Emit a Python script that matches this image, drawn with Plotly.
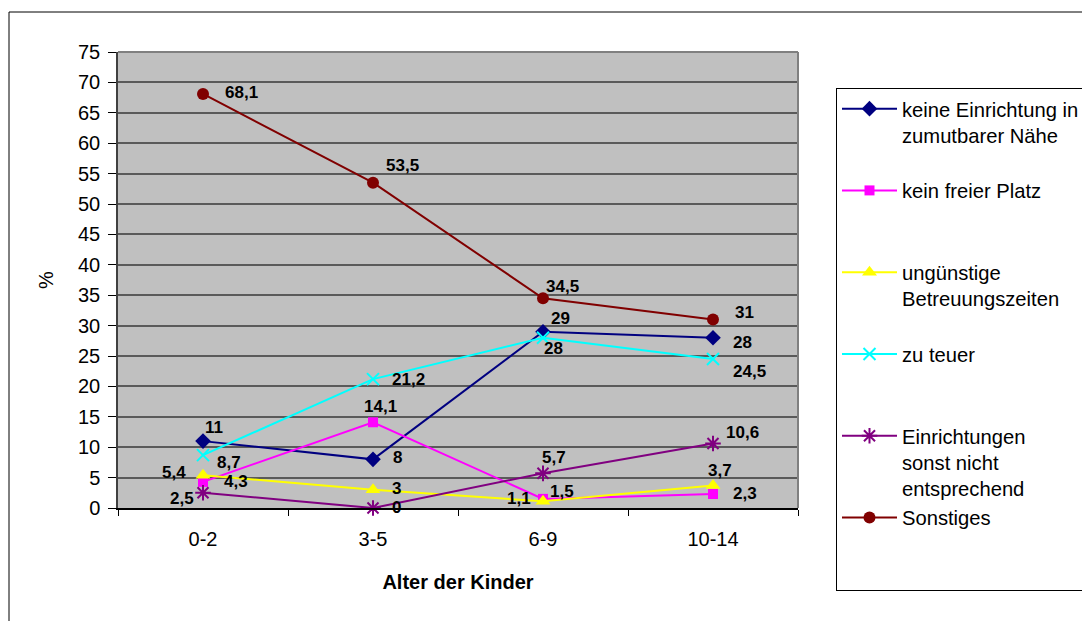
import plotly.graph_objects as go

# ---------------- data ----------------
categories = ["0-2", "3-5", "6-9", "10-14"]

keine_einrichtung = [11, 8, 29, 28]
kein_freier_platz = [4.3, 14.1, 1.5, 2.3]
unguenstige_zeiten = [5.4, 3, 1.1, 3.7]
zu_teuer = [8.7, 21.2, 28, 24.5]
nicht_entsprechend = [2.5, 0, 5.7, 10.6]
sonstiges = [68.1, 53.5, 34.5, 31]

series_names = [
    "keine Einrichtung in<br>zumutbarer Nähe<br>\u00a0",
    "kein freier Platz<br>\u00a0<br>\u00a0",
    "ungünstige<br>Betreuungszeiten<br>\u00a0",
    "zu teuer<br>\u00a0<br>\u00a0",
    "Einrichtungen<br>sonst nicht<br>entsprechend",
    "Sonstiges<br>\u00a0<br>\u00a0",
]
series_values = [keine_einrichtung, kein_freier_platz, unguenstige_zeiten,
                 zu_teuer, nicht_entsprechend, sonstiges]

y_ticks = list(range(0, 80, 5))

# ---------------- styles ----------------
colors = ["#000080", "#FF00FF", "#FFFF00", "#00FFFF", "#800080", "#800000"]
symbols = ["diamond", "square", "triangle-up", "x-thin-open", "asterisk-open", "circle"]
msizes = [12, 10, 13, 12, 13, 12]

# label offsets in pixels (dx, dy; dy positive = up)
label_offsets = [
    [(11, 14), (24, 2), (17, 13), (29, -5)],
    [(33, 0), (7, 16), (19, 7), (32, 1)],
    [(-29, 3), (23, 1), (-24, 3), (7, 15)],
    [(26, -7), (35, 0), (10, -11), (36, -12)],
    [(-21, -6), (23, 1), (11, 16), (29, 11)],
    [(38, 1), (29, 17), (19, 12), (31, 7)],
]

# page offset (browser body margin)
OX, OY = 8, 8
W, H = 1090 - OX, 621 - OY
# plot area in screen pixels
L, R, T, B = 118, 798, 52, 508


def fmt(v):
    if float(v).is_integer():
        return str(int(v))
    return str(v).replace(".", ",")


fig = go.Figure()
for name, vals, col, sym, ms in zip(series_names, series_values, colors, symbols, msizes):
    open_sym = sym.endswith("-open")
    fig.add_trace(go.Scatter(
        x=categories, y=vals, name=name, mode="lines+markers",
        line=dict(color=col, width=2),
        marker=dict(symbol=sym, size=ms, color=col,
                    line=dict(color=col, width=2 if open_sym else 0)),
        cliponaxis=False,
    ))

annotations = []
for vals, offs in zip(series_values, label_offsets):
    for c, v, (dx, dy) in zip(categories, vals, offs):
        annotations.append(dict(
            x=c, y=v, xref="x", yref="y", text=fmt(v), showarrow=False,
            xshift=dx, yshift=dy,
            font=dict(family="Liberation Sans, Arial", size=17, color="black", weight="bold"),
        ))


def px_to_paper_x(px):
    return (px - L) / (R - L)


def px_to_paper_y(py):
    return (B - py) / (B - T)


shapes = [
    # outer chart frame (cut off at right/bottom)
    dict(type="rect", xref="paper", yref="paper",
         x0=px_to_paper_x(9), x1=px_to_paper_x(1110),
         y0=px_to_paper_y(640), y1=px_to_paper_y(12),
         line=dict(color="#000000", width=1), fillcolor="rgba(0,0,0,0)", layer="below"),
    # top and right border of plot area
    dict(type="line", xref="paper", yref="paper", x0=0, x1=1, y0=1, y1=1,
         line=dict(color="#808080", width=2), layer="above"),
    dict(type="line", xref="paper", yref="paper", x0=1, x1=1, y0=0, y1=1,
         line=dict(color="#808080", width=2), layer="above"),
]

fig.update_layout(
    width=W, height=H, autosize=False,
    margin=dict(l=L - OX, r=W - (R - OX), t=T - OY, b=H - (B - OY), pad=0),
    paper_bgcolor="white", plot_bgcolor="#C0C0C0",
    font=dict(family="Liberation Sans, Arial", size=20, color="black"),
    showlegend=True,
    legend=dict(
        xref="container", yref="container",
        x=(836 - OX) / W, y=1 - (88 - OY) / H, xanchor="left", yanchor="top",
        bgcolor="white", bordercolor="black", borderwidth=1,
        font=dict(size=20.2, color="black"), valign="top",
        itemwidth=55, tracegroupgap=0, maxheight=600,
    ),
    annotations=annotations,
    shapes=shapes,
    xaxis=dict(
        type="category", range=[-0.5, 3.5], showgrid=False,
        showline=True, linecolor="#000000", linewidth=1.5,
        ticks="outside", ticklen=6, tickcolor="#000000", tickson="boundaries",
        ticklabelstandoff=12,
        tickfont=dict(size=20),
        title=dict(text="<b>Alter der Kinder</b>", font=dict(size=20), standoff=26),
        zeroline=False,
    ),
    yaxis=dict(
        range=[0, 75], tickvals=y_ticks, ticktext=[str(t) for t in y_ticks],
        showgrid=True, gridcolor="#5a5a5a", gridwidth=1.5,
        showline=True, linecolor="#404040", linewidth=1.5,
        ticks="outside", ticklen=8, tickcolor="#000000",
        ticklabelstandoff=4,
        tickfont=dict(size=20), zeroline=False,
        title=dict(text="%", font=dict(size=20), standoff=19),
    ),
)

fig.write_html("out.html")
